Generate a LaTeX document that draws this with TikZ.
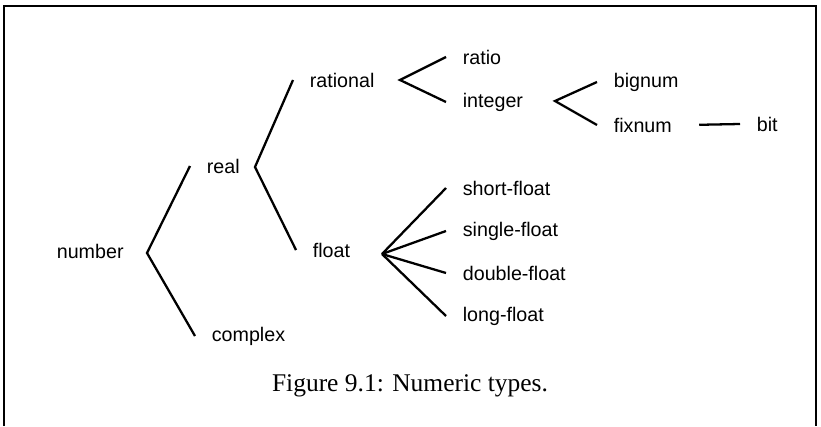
\documentclass[tikz,border=0pt]{standalone}
\usepackage{fontspec}
\setmainfont{Liberation Serif}
\newfontfamily\labelfont{Liberation Sans}
\usetikzlibrary{positioning}
\tikzstyle{type} = [anchor=west, inner sep=0pt, outer xsep=9.6pt, font=\labelfont\fontsize{11.2}{13}\selectfont]
\tikzstyle{branch} = [line width=1.3pt]

\begin{document}
\begin{tikzpicture}[x=0.02cm, y=-0.02cm]
 \useasboundingbox (0,0) rectangle (821,426);
 % frame, open at the bottom
 \draw[line width=0.9pt] (4,426) -- (4,6) -- (816,6) -- (816,426);

 \node (number) [type] at (40,251) {number};
 \node (real) [type] at (190,166) {real};
 \node (complex) [type] at (195,336) {complex};
 \node (rational) [type] at (293,80) {rational};
 \node (float) [type] at (296,250) {float};
 \node (ratio) [type] at (446,57) {ratio};
 \node (integer) [type] at (446,102) {integer};
 \node (bignum) [type] at (597,82) {bignum};
 \node (fixnum) [type] at (597,125) {fixnum};
 \node (bit) [type] at (740,124) {bit};
 \node (short) [type] at (446,188) {short-float};
 \node (single) [type] at (446,231) {single-float};
 \node (double) [type] at (446,273) {double-float};
 \node (long) [type] at (446,316) {long-float};

 \coordinate (jnumber) at (147,253);
 \coordinate (jreal) at (255,167);
 \coordinate (jrational) at (400,80);
 \coordinate (jinteger) at (555,101);
 \coordinate (jfloat) at (382,254);

 \draw[branch] (real.west) -- (jnumber) -- (complex.west);
 \draw[branch] (rational.west) -- (jreal) -- (float.west);
 \draw[branch] (ratio.west) -- (jrational) -- (integer.west);
 \draw[branch] (bignum.west) -- (jinteger) -- (fixnum.west);
 \draw[branch] (jfloat) -- (short.west);
 \draw[branch] (jfloat) -- (single.west);
 \draw[branch] (jfloat) -- (double.west);
 \draw[branch] (jfloat) -- (long.west);
 \draw[branch, shorten <=6pt] (fixnum.east) -- (bit.west);

 \node (caption) at (410,386) {\fontsize{14.5}{17}\selectfont Figure 9.1: Numeric types.};
\end{tikzpicture}
\end{document}
